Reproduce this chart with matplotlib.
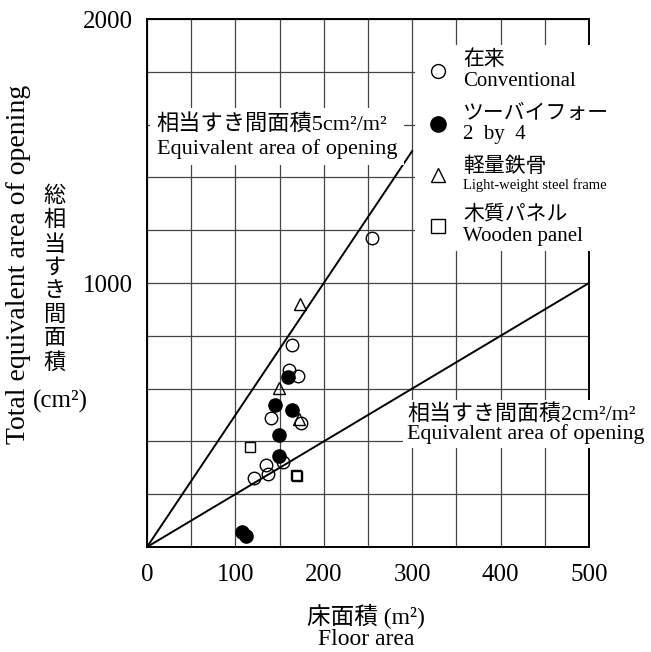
import matplotlib
matplotlib.use('Agg')

import matplotlib.pyplot as plt
from matplotlib.lines import Line2D
from matplotlib.offsetbox import AnchoredOffsetbox, DrawingArea, HPacker, TextArea, VPacker

plt.rcParams['font.family'] = ['Liberation Serif', 'Noto Sans CJK JP']

# --- data (floor area m2, equivalent area cm2) ---
conv_x = [254, 164, 161, 171, 140, 174, 154, 135, 137, 121]
conv_y = [1172, 765, 670, 649, 487, 469, 321, 311, 277, 260]
tbf_x = [160, 145, 164, 149, 149, 108, 112]
tbf_y = [645, 538, 519, 424, 346, 56, 42]
steel_x = [173, 149, 172]
steel_y = [919, 601, 484]
panel_x = [116, 169, 170]
panel_y = [378, 272, 268]

# reference lines: cm2 per m2 of floor, drawn up to this floor area
guide_rates = [5, 2]
guide_x_end = [300, 500]

legend_jp = ['在来', 'ツーバイフォー', '軽量鉄骨', '木質パネル']
legend_en = ['Conventional', '2  by  4', 'Light-weight steel frame', 'Wooden panel']

x_ticks = list(range(0, 501, 50))
x_ticklabels = [str(v) if v % 100 == 0 else '' for v in x_ticks]
y_ticks = list(range(0, 2001, 200))
y_ticklabels = [str(v) if v % 1000 == 0 and v > 0 else '' for v in y_ticks]

W, H = 651, 652
fig = plt.figure(figsize=(W / 100, H / 100), dpi=100, facecolor='white')
ax = fig.add_axes([147 / W, 1 - 547 / H, 442 / W, 528 / H])

ax.set_xlim(0, 500)
ax.set_ylim(0, 2000)
ax.set_xticks(x_ticks, x_ticklabels)
ax.set_yticks(y_ticks, y_ticklabels)
ax.tick_params(length=0, labelsize=18)
ax.tick_params(axis='x', pad=12)
ax.tick_params(axis='y', pad=10)
ax.grid(True, color='#444444', linewidth=0.9)
ax.set_axisbelow(True)
for sp in ax.spines.values():
    sp.set_linewidth(1.4)

for rate, xe in zip(guide_rates, guide_x_end):
    ax.plot([0, xe], [0, rate * xe], color='black', lw=1.4, zorder=2)

ax.plot(conv_x, conv_y, 'o', ms=9, mfc='none', mec='black', mew=1.0, zorder=3)
ax.plot(tbf_x, tbf_y, 'o', ms=9.5, mfc='black', mec='black', mew=1.0, zorder=3)
ax.plot(steel_x, steel_y, '^', ms=8.5, mfc='none', mec='black', mew=1.0, zorder=3)
ax.plot(panel_x, panel_y, 's', ms=7.5, mfc='none', mec='black', mew=1.0, zorder=3)

ax.text(11, 1555, '相当すき間面積5cm²/m²\nEquivalent area of opening',
        fontsize=16, ha='left', va='center', linespacing=1.25, zorder=4,
        bbox=dict(boxstyle='square,pad=0.3', facecolor='white', edgecolor='none'))
ax.text(294, 466, '相当すき間面積2cm²/m²\nEquivalent area of opening',
        fontsize=15.8, ha='left', va='center', linespacing=0.95, zorder=4,
        bbox=dict(boxstyle='square,pad=0.2', facecolor='white', edgecolor='none'))

# legend built from offset boxes so each line keeps its own size
legend_styles = [('o', 10, 'none'), ('o', 11, 'black'), ('^', 10.5, 'none'), ('s', 9.5, 'none')]
legend_en_size = [15, 15, 10.5, 15]
rows = []
for jp, en, en_size, (mk, ms, mfc) in zip(legend_jp, legend_en, legend_en_size, legend_styles):
    da = DrawingArea(25.5, 20, 0, 0)
    da.add_artist(Line2D([12.5], [10], marker=mk, ms=ms, mfc=mfc, mec='black', mew=1.0, ls='none'))
    lines = VPacker(children=[TextArea(jp, textprops=dict(fontsize=15)),
                              TextArea(en, textprops=dict(fontsize=en_size))],
                    align='left', pad=0, sep=1)
    rows.append(HPacker(children=[da, lines], align='center', pad=0, sep=5))
legend_box = VPacker(children=rows, align='left', pad=0, sep=10)
anchored = AnchoredOffsetbox(loc='upper left', child=legend_box, pad=0.4, borderpad=0,
                             frameon=True, bbox_to_anchor=(0.6063, 0.9508),
                             bbox_transform=ax.transAxes)
anchored.patch.set_facecolor('white')
anchored.patch.set_edgecolor('none')
anchored.patch.set_boxstyle('square,pad=0')
anchored.set_zorder(5)
ax.add_artist(anchored)

# axis titles
fig.text(19 / W, 1 - 264 / H, 'Total equivalent area of opening', rotation=90,
         fontsize=20, ha='center', va='center')
fig.text(55 / W, 1 - 280 / H, '\n'.join('総相当すき間面積'), fontsize=16,
         ha='center', va='center', linespacing=1.27)
fig.text(33 / W, 1 - 401 / H, '(cm²)', fontsize=18, ha='left', va='center')
fig.text(366 / W, 1 - 627 / H, '床面積 (m²)\nFloor area', fontsize=17,
         ha='center', va='center', linespacing=0.95)

fig.savefig('out.png', dpi=100, facecolor='white')
